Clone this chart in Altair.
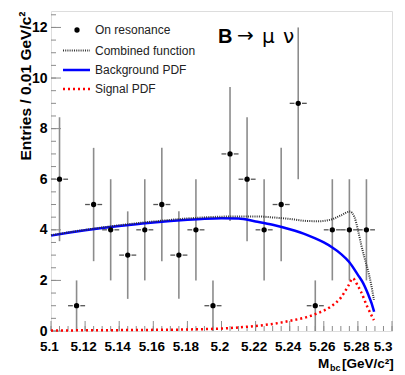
import altair as alt
import pandas as pd

# ---- data ----
bin_centers = [5.105, 5.115, 5.125, 5.135, 5.145, 5.155, 5.165, 5.175, 5.185, 5.195,
               5.205, 5.215, 5.225, 5.235, 5.245, 5.255, 5.265, 5.275, 5.285]
counts = [6, 1, 5, 4, 3, 4, 5, 3, 4, 1, 7, 6, 4, 5, 9, 1, 4, 4, 4]
errors = [2.45, 1.0, 2.24, 2.0, 1.73, 2.0, 2.24, 1.73, 2.0, 1.0,
          2.65, 2.45, 2.0, 2.24, 3.0, 1.0, 2.0, 2.0, 2.0]
half_bin = 0.005

bkg_x = [5.100, 5.110, 5.120, 5.130, 5.140, 5.150, 5.160, 5.170, 5.180, 5.190,
         5.200, 5.210, 5.220, 5.230, 5.240, 5.250, 5.255, 5.260, 5.265, 5.270,
         5.275, 5.280, 5.283, 5.286, 5.288, 5.2895]
bkg_y = [3.77, 3.88, 3.98, 4.07, 4.15, 4.22, 4.29, 4.35, 4.40, 4.44,
         4.46, 4.45, 4.33, 4.20, 4.02, 3.80, 3.66, 3.50, 3.30, 3.05,
         2.72, 2.22, 1.90, 1.45, 1.10, 0.76]

sig_x = [5.100, 5.150, 5.180, 5.200, 5.210, 5.220, 5.230, 5.240, 5.250, 5.257,
         5.264, 5.270, 5.2745, 5.277, 5.280, 5.2818, 5.2855, 5.2894]
sig_y = [0.02, 0.04, 0.06, 0.10, 0.14, 0.20, 0.28, 0.40, 0.55, 0.72,
         0.96, 1.32, 1.80, 2.08, 1.78, 1.55, 0.96, 0.43]

comb_x = [5.100, 5.120, 5.140, 5.160, 5.180, 5.200, 5.210, 5.220, 5.230, 5.240,
          5.250, 5.257, 5.264, 5.270, 5.2753, 5.278, 5.280, 5.2818, 5.2837,
          5.2859, 5.2876, 5.2894]
comb_y = [3.79, 4.00, 4.18, 4.33, 4.45, 4.52, 4.53, 4.53, 4.49, 4.43,
          4.35, 4.34, 4.40, 4.57, 4.72, 4.50, 4.00, 3.45, 2.94,
          2.40, 1.90, 1.23]

x_major = [5.10, 5.12, 5.14, 5.16, 5.18, 5.20, 5.22, 5.24, 5.26, 5.28, 5.30]
y_major = [0, 2, 4, 6, 8, 10, 12]

legend_labels = ["On resonance", "Combined function", "Background PDF", "Signal PDF"]

# ---- derived tables ----
pts = pd.DataFrame({"x": bin_centers, "y": counts, "e": errors})
pts["lo"] = pts["y"] - pts["e"]
pts["hi"] = pts["y"] + pts["e"]
pts["xl1"] = pts["x"] - half_bin
pts["xl2"] = pts["x"] - 0.0022
pts["xr1"] = pts["x"] + 0.0022
pts["xr2"] = pts["x"] + half_bin

bkg = pd.DataFrame({"x": bkg_x, "y": bkg_y})
sig = pd.DataFrame({"x": sig_x, "y": sig_y})
comb = pd.DataFrame({"x": comb_x, "y": comb_y})

x_minor = pd.DataFrame({"x": [round(5.1 + 0.005 * i, 3) for i in range(41)]})
y_minor = pd.DataFrame({"y": [round(0.5 * i, 1) for i in range(26)]})
x_maj = pd.DataFrame({"x": x_major})
y_maj = pd.DataFrame({"y": y_major})

W, H = 341, 320
FONT = "Liberation Sans"
GRAY = "#8c8c8c"

xs = alt.Scale(domain=[5.1, 5.3], nice=False, zero=False)
ys = alt.Scale(domain=[0, 12.65], nice=False, zero=False)

x_axis = alt.Axis(values=x_major, format="~g", ticks=False, domain=False, grid=False,
                  labelFont=FONT, labelFontWeight="bold", labelFontSize=13.5,
                  labelColor="black", labelPadding=8, labelFlush=False,
                  labelAlign=alt.ExprRef(expr="datum.value > 5.295 ? 'right' : 'center'"),
                  labelOffset=alt.ExprRef(expr="datum.value > 5.295 ? 0 : -2"))
y_axis = alt.Axis(values=y_major, format="d", ticks=False, domain=False, grid=False,
                  labelFont=FONT, labelFontWeight="bold", labelFontSize=14,
                  labelColor="black", labelPadding=4, titleFont=FONT,
                  titleFontWeight="bold", titleFontSize=15.5, titleColor="black",
                  titleAngle=270, titleAlign="right", titleBaseline="alphabetic",
                  titleX=-21, titleY=0)

YT = "Entries / 0.01 GeV/c²"


def X(field):
    return alt.X(field, scale=xs, axis=x_axis, title=None)


def Y(field):
    return alt.Y(field, scale=ys, axis=y_axis, title=YT)


# ticks (inside the frame)
tx_min = alt.Chart(x_minor).mark_rule(color=GRAY, strokeWidth=1).encode(
    x=X("x:Q"), y=alt.value(H), y2=alt.value(H - 5))
tx_maj = alt.Chart(x_maj).mark_rule(color=GRAY, strokeWidth=1).encode(
    x=X("x:Q"), y=alt.value(H), y2=alt.value(H - 10))
ty_min = alt.Chart(y_minor).mark_rule(color=GRAY, strokeWidth=1).encode(
    y=Y("y:Q"), x=alt.value(0), x2=alt.value(5))
ty_maj = alt.Chart(y_maj).mark_rule(color=GRAY, strokeWidth=1).encode(
    y=Y("y:Q"), x=alt.value(0), x2=alt.value(10))

# error bars
vbar = alt.Chart(pts).mark_rule(color=GRAY, strokeWidth=1.6).encode(
    x=X("x:Q"), y=Y("lo:Q"), y2="hi:Q")
hbar_l = alt.Chart(pts).mark_rule(color="#555555", strokeWidth=1.3).encode(
    x=X("xl1:Q"), x2="xl2:Q", y=Y("y:Q"))
hbar_r = alt.Chart(pts).mark_rule(color="#555555", strokeWidth=1.3).encode(
    x=X("xr1:Q"), x2="xr2:Q", y=Y("y:Q"))

# curves
bkg_line = alt.Chart(bkg).mark_line(color="#0000ff", strokeWidth=2.5,
                                    interpolate="monotone").encode(x=X("x:Q"), y=Y("y:Q"))
sig_line = alt.Chart(sig).mark_line(color="#ff0000", strokeWidth=2.5,
                                    strokeDash=[2, 3], interpolate="monotone").encode(
    x=X("x:Q"), y=Y("y:Q"))
comb_line = alt.Chart(comb).mark_line(color="#333333", strokeWidth=2,
                                      strokeDash=[1, 1.2], interpolate="monotone").encode(
    x=X("x:Q"), y=Y("y:Q"))

dots = alt.Chart(pts).mark_point(filled=True, color="black", size=28, opacity=1).encode(
    x=X("x:Q"), y=Y("y:Q"))

# legend
one = pd.DataFrame({"k": [0]})
leg_y = [19, 39.5, 59, 78]
leg = []
leg.append(alt.Chart(one).mark_point(filled=True, color="black", size=28, opacity=1).encode(
    x=alt.value(26), y=alt.value(leg_y[0])))
leg.append(alt.Chart(one).mark_rule(color="#333333", strokeWidth=2, strokeDash=[1, 1.2]).encode(
    x=alt.value(12), x2=alt.value(39), y=alt.value(leg_y[1])))
leg.append(alt.Chart(one).mark_rule(color="#0000ff", strokeWidth=2.5).encode(
    x=alt.value(12), x2=alt.value(39), y=alt.value(leg_y[2])))
leg.append(alt.Chart(one).mark_rule(color="#ff0000", strokeWidth=2.5, strokeDash=[2, 3]).encode(
    x=alt.value(12), x2=alt.value(39), y=alt.value(leg_y[3])))
for lbl, ly in zip(legend_labels, leg_y):
    leg.append(alt.Chart(one).mark_text(text=lbl, font=FONT, fontSize=12, color="#222222",
                                        align="left", baseline="middle").encode(
        x=alt.value(44), y=alt.value(ly)))


def txt(s, x, y, size, bold=False, font=FONT):
    kw = dict(text=s, font=font, fontSize=size, color="black",
              align="left", baseline="alphabetic")
    if bold:
        kw["fontWeight"] = "bold"
    return alt.Chart(one).mark_text(**kw).encode(x=alt.value(x), y=alt.value(y))


# annotations
ann = [
    txt("B", 167, 32, 20, bold=True),
    txt("→", 186, 31, 20, font="DejaVu Sans"),
    txt("μ", 211, 32, 20, font="DejaVu Sans"),
    txt("ν", 232, 32, 20, font="DejaVu Sans"),
    txt("M", 267, 357, 13.5, bold=True),
    txt("bc", 279, 360, 9, bold=True),
    txt("[GeV/c²]", 291, 357, 13.5, bold=True),
]

chart = alt.layer(
    vbar, hbar_l, hbar_r, tx_min, tx_maj, ty_min, ty_maj,
    bkg_line, comb_line, sig_line, dots, *leg, *ann
).properties(
    width=W, height=H,
    autosize=alt.AutoSizeParams(type="none"),
    padding={"left": 43, "top": 3, "right": 5, "bottom": 44},
).configure_view(stroke="#999999", strokeWidth=1).configure(background="white")

chart.save("out.html", embed_options={"renderer": "svg", "actions": False})
